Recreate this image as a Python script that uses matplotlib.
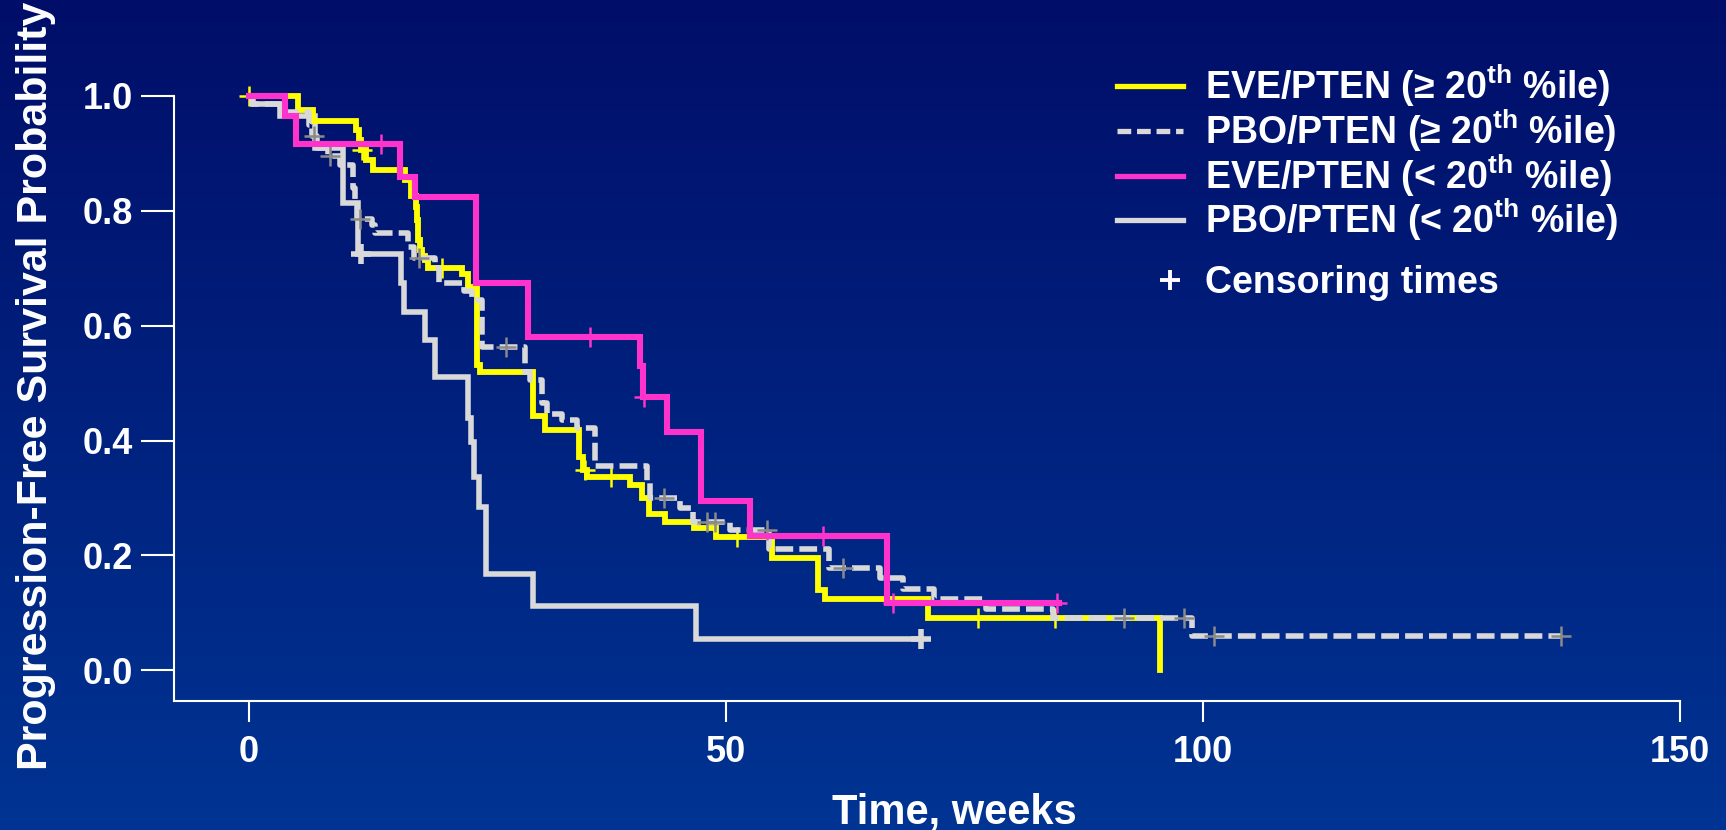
import numpy as np
import matplotlib
matplotlib.use("Agg")
import matplotlib.pyplot as plt
from matplotlib.lines import Line2D
from matplotlib.colors import LinearSegmentedColormap

plt.rcParams['font.family'] = ['Liberation Sans', 'DejaVu Sans']
plt.rcParams['font.weight'] = 'bold'
plt.rcParams['mathtext.fontset'] = 'custom'
plt.rcParams['mathtext.bf'] = 'Liberation Sans:bold'
plt.rcParams['mathtext.rm'] = 'Liberation Sans:bold'

# Kaplan-Meier steps (time in weeks, survival after the drop)
eve_hi_t = [0, 5.2, 6.7, 11.2, 11.5, 11.8, 12.3, 13.0, 16.4, 17.0, 17.5, 17.6, 17.7,
            17.9, 18.2, 18.5, 18.8, 22.4, 23.0, 23.9, 24.2, 29.8, 31.0, 34.6, 35.0,
            35.4, 40.0, 41.2, 41.9, 43.6, 46.7, 49.0, 54.8, 59.7, 60.4, 71.2, 95.5]
eve_hi_s = [1.0, 0.975, 0.956, 0.94, 0.923, 0.906, 0.888, 0.871, 0.854, 0.825, 0.807,
            0.784, 0.749, 0.732, 0.722, 0.714, 0.700, 0.690, 0.668, 0.531, 0.520, 0.442,
            0.418, 0.372, 0.349, 0.337, 0.323, 0.300, 0.273, 0.259, 0.247, 0.232, 0.195,
            0.140, 0.124, 0.092, 0.0]
eve_hi_cens = [0.0, 11.9, 20.2, 35.2, 38.0, 51.2, 76.4, 84.5]

pbo_hi_t = [0, 0.3, 3.3, 6.3, 6.6, 7.2, 8.3, 9.6, 10.9, 11.1, 11.3, 12.9, 13.2, 16.7,
            17.3, 19.5, 19.9, 22.6, 23.4, 24.4, 29.0, 29.5, 30.7, 31.3, 32.8, 34.4, 36.3,
            41.7, 42.1, 45.2, 46.6, 50.4, 54.5, 60.8, 66.2, 68.6, 71.8, 77.3, 84.3, 98.9,
            137.5]
pbo_hi_s = [1.0, 0.985, 0.972, 0.95, 0.93, 0.909, 0.895, 0.88, 0.84, 0.81, 0.786, 0.775,
            0.762, 0.737, 0.717, 0.700, 0.674, 0.660, 0.645, 0.563, 0.520, 0.505, 0.465,
            0.447, 0.436, 0.421, 0.355, 0.330, 0.300, 0.282, 0.259, 0.244, 0.212, 0.178,
            0.160, 0.141, 0.124, 0.106, 0.091, 0.059, 0.059]
pbo_hi_cens = [6.8, 8.5, 11.7, 17.8, 27.0, 43.5, 48.0, 48.9, 54.3, 62.3, 91.7, 98.0,
               101.2, 137.5]

eve_lo_t = [0, 3.8, 4.9, 15.9, 17.4, 23.8, 29.3, 41.0, 41.3, 43.8, 47.4, 52.5, 66.9, 84.9]
eve_lo_s = [1.0, 0.965, 0.916, 0.859, 0.823, 0.675, 0.580, 0.529, 0.476, 0.414, 0.295,
            0.234, 0.117, 0.117]
eve_lo_cens = [13.9, 35.8, 41.4, 60.2, 67.5, 84.7]

pbo_lo_t = [0, 0.4, 3.3, 6.9, 9.9, 11.4, 16.0, 16.3, 18.5, 19.5, 23.0, 23.3, 23.6, 24.1,
            24.9, 29.8, 46.9, 70.5]
pbo_lo_s = [1.0, 0.985, 0.965, 0.909, 0.813, 0.724, 0.674, 0.624, 0.575, 0.511, 0.439,
            0.398, 0.337, 0.285, 0.167, 0.112, 0.055, 0.055]
pbo_lo_cens = [11.8, 70.5]

labels = [r'EVE/PTEN (≥ 20$^{\mathbf{th}}$ %ile)',
          r'PBO/PTEN (≥ 20$^{\mathbf{th}}$ %ile)',
          r'EVE/PTEN (< 20$^{\mathbf{th}}$ %ile)',
          r'PBO/PTEN (< 20$^{\mathbf{th}}$ %ile)']

x_ticks = [0, 50, 100, 150]
y_ticks = [0.0, 0.2, 0.4, 0.6, 0.8, 1.0]


def surv_at(t, s, c):
    # survival value of the step curve at censor time c
    idx = np.searchsorted(t, c, side='right') - 1
    return np.asarray(s)[idx]


fig = plt.figure(figsize=(17.26, 8.30), dpi=100)

# gradient background
bg = fig.add_axes([0, 0, 1, 1], zorder=-10)
cmap = LinearSegmentedColormap.from_list('bg', ['#000e69', '#003493'])
bg.imshow(np.linspace(0, 1, 256).reshape(-1, 1), cmap=cmap, aspect='auto',
          extent=[0, 1, 0, 1], origin='upper')
bg.axis('off')

ax = fig.add_axes([0.1008, 0.1552, 0.8725, 0.7294])
ax.set_facecolor('none')

# (times, surv, censors, line colour, censor colour, linestyle, lw, censor size, censor mew, z)
curves = [
    (eve_hi_t, eve_hi_s, eve_hi_cens, '#ffff00', '#ffff00', '-', 4.2, 14, 1.8, 3),
    (pbo_lo_t, pbo_lo_s, pbo_lo_cens, '#d9d9d9', '#d9d9d9', '-', 4.0, 14, 4.0, 2),
    (pbo_hi_t, pbo_hi_s, pbo_hi_cens, '#d9d9d9', '#8a8a8a', '--', 4.0, 14, 1.8, 4),
    (eve_lo_t, eve_lo_s, eve_lo_cens, '#ff33cc', '#ff33cc', '-', 4.4, 15, 1.8, 5),
]

for t, s, cens, col, ccol, ls, lw, ms, mew, z in curves:
    line, = ax.step(t, s, where='post', color=col, lw=lw, zorder=z, clip_on=False,
                    solid_joinstyle='miter')
    if ls == '--':
        line.set_dashes((3.2, 1.1))
    cy = [surv_at(t, s, c) for c in cens]
    ax.plot(cens, cy, linestyle='none', marker='+', ms=ms, mew=mew, color=ccol,
            zorder=z + 0.5, clip_on=False)

ax.set_xlim(-7.84, 150)
ax.set_ylim(-0.0536, 1.0)
ax.set_xticks(x_ticks)
ax.set_yticks(y_ticks)
ax.set_xticklabels([str(v) for v in x_ticks])
ax.set_yticklabels([f'{v:.1f}' for v in y_ticks])

for side in ['top', 'right']:
    ax.spines[side].set_visible(False)
for side in ['left', 'bottom']:
    ax.spines[side].set_color('white')
    ax.spines[side].set_linewidth(1.5)

ax.tick_params(axis='y', length=24, width=1.5, pad=5.5, colors='white', labelsize=26)
ax.tick_params(axis='x', length=15, width=1.5, pad=9, colors='white', labelsize=26)

fig.text(0.021, 0.535, 'Progression-Free Survival Probability', rotation=90,
         ha='center', va='center', color='white', fontsize=31, fontweight='bold')
fig.text(0.5527, 0.008, 'Time, weeks', ha='center', va='baseline', color='white',
         fontsize=30, fontweight='bold')

# legend, drawn by hand
W, H = 1726.0, 830.0
rows = [86, 131, 176, 220]
hx0, hx1, tx = 1117 / W, 1183 / W, 1205 / W
leg_style = [('#ffff00', '-'), ('#d9d9d9', '--'), ('#ff33cc', '-'), ('#d9d9d9', '-')]
for ry, lab, (col, ls) in zip(rows, labels, leg_style):
    yy = 1 - ry / H
    ln = Line2D([hx0, hx1], [yy, yy], transform=fig.transFigure, color=col, lw=3.8)
    if ls == '--':
        ln.set_dashes((2.6, 1.1))
    fig.add_artist(ln)
    fig.text(tx, 1 - (ry + 13) / H, lab, color='white', fontsize=27,
             fontweight='bold', va='baseline', ha='left')

fig.add_artist(Line2D([1170 / W], [1 - 280 / H], transform=fig.transFigure,
                      marker='+', ms=14, mew=2.8, color='white', linestyle='none'))
fig.text(tx, 1 - (280 + 13) / H, 'Censoring times', color='white', fontsize=27,
         fontweight='bold', va='baseline', ha='left')

fig.savefig('out.png', dpi=100)
